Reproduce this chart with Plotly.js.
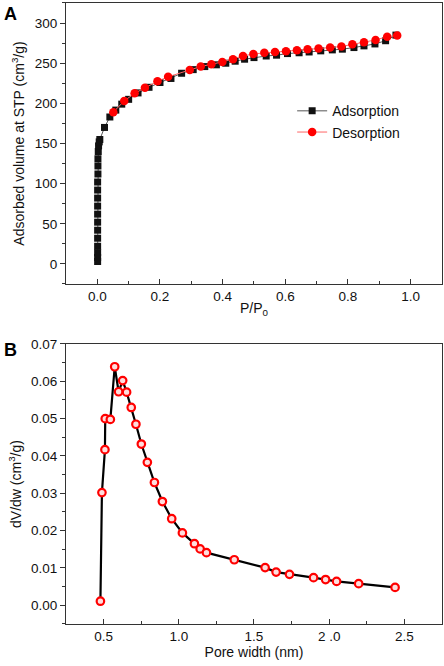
<!DOCTYPE html>
<html>
<head>
<meta charset="utf-8">
<script src="https://cdn.plot.ly/plotly-3.0.1.min.js"></script>
<style>html,body{margin:0;padding:0;background:#fff;}#chart{width:444px;height:666px;}</style>
</head>
<body>
<div id="chart"></div>
<script>
// Panel A: N2 isotherm
const adsX = [0.001,0.001,0.001,0.001,0.001,0.001,0.001,0.001,0.001,0.001,0.001,0.001,0.002,0.002,0.002,0.003,0.004,0.006,0.008,0.023,0.040,0.059,0.078,0.100,0.130,0.165,0.200,0.235,0.269,0.306,0.343,0.380,0.410,0.440,0.470,0.500,0.539,0.572,0.607,0.644,0.676,0.713,0.750,0.782,0.819,0.851,0.886,0.920,0.953];
const adsY = [3,8,14,22,32,42,52,62,72,82,92,102,112,122,131,140,147,152,155,170,183,191.6,199,205,213,220,226,231,237.5,242,245.8,248,250,252.5,255,257,259,260,262,263,264,265.4,266.6,267.5,269.5,271.6,274,278,285];
const desX = [0.957,0.925,0.888,0.851,0.814,0.779,0.743,0.706,0.671,0.637,0.602,0.567,0.533,0.498,0.465,0.433,0.399,0.364,0.330,0.295,0.226,0.192,0.152,0.119,0.086,0.051];
const desY = [284.5,283,279,276,273.5,270.8,269.5,268.3,267.5,266,265,264,263,261.6,259,255,251.6,248.7,245.8,241.6,233,227.5,219.5,212.5,203,189];
// Panel B: pore size distribution
const poreW = [0.479,0.489,0.509,0.511,0.545,0.574,0.600,0.627,0.653,0.684,0.715,0.751,0.791,0.838,0.891,0.953,1.024,1.104,1.142,1.184,1.369,1.574,1.647,1.736,1.896,1.976,2.049,2.196,2.438];
const dVdw = [0.0011,0.0302,0.0417,0.0500,0.0498,0.0639,0.0572,0.0602,0.0571,0.0530,0.0485,0.0432,0.0383,0.0329,0.0278,0.0232,0.0194,0.0165,0.0151,0.0141,0.0122,0.0101,0.0089,0.0083,0.0074,0.0069,0.0064,0.0058,0.0048];
const bTickVals = [0.5,1.0,1.5,2.0,2.5];
const bTickText = ['0.5','1.0','1.5','2 .0','2.5'];

const FONT = 'Liberation Sans, Arial, sans-serif';
const traces = [
  {x: adsX, y: adsY, type:'scatter', mode:'lines+markers', name:'Adsorption',
   line:{color:'#555', width:1}, marker:{symbol:'square', size:7, color:'#111'}, xaxis:'x', yaxis:'y'},
  {x: desX, y: desY, type:'scatter', mode:'lines+markers', name:'Desorption',
   line:{color:'#f66', width:1}, marker:{symbol:'circle', size:8.5, color:'#f00'}, xaxis:'x', yaxis:'y'},
  {x: poreW, y: dVdw, type:'scatter', mode:'lines+markers', showlegend:false,
   line:{color:'#000', width:2.2}, marker:{symbol:'circle', size:7.5, color:'#fdd', line:{color:'#f00', width:2.2}}, xaxis:'x2', yaxis:'y2'}
];
const axCommon = {showline:true, mirror:true, linecolor:'#333', linewidth:1, zeroline:false, showgrid:false,
  tickcolor:'#333', ticklen:5, tickfont:{family:FONT, size:13.5, color:'#111'}, automargin:false};
const layout = {
  width:444, height:666, margin:{l:0,r:0,t:0,b:0}, paper_bgcolor:'#fff', plot_bgcolor:'#fff',
  font:{family:FONT, color:'#111'},
  showlegend:true,
  legend:{x:0.658, y:0.857, xanchor:'left', yanchor:'top', font:{family:FONT, size:14, color:'#111'}, bgcolor:'rgba(0,0,0,0)', tracegroupgap:0},
  xaxis: Object.assign({}, axCommon, {domain:[0.1486,0.9955], anchor:'y', range:[-0.1,1.1], tickvals:[0,0.2,0.4,0.6,0.8,1.0], tickformat:'.1f', ticks:'inside',
    minor:{dtick:0.1, tick0:0, ticks:'inside', ticklen:3, tickcolor:'#333'},
    title:{text:'P/P<sub>0</sub>', font:{family:FONT, size:14}, standoff:0}}),
  yaxis: Object.assign({}, axCommon, {domain:[0.5736,0.9955], anchor:'x', range:[-25,325], tickvals:[0,50,100,150,200,250,300], ticks:'outside',
    minor:{dtick:25, tick0:0, ticks:'outside', ticklen:3, tickcolor:'#333'},
    title:{text:'Adsorbed volume at STP (cm<sup>3</sup>/g)', font:{family:FONT, size:14}, standoff:6}}),
  xaxis2: Object.assign({}, axCommon, {domain:[0.1486,0.9955], anchor:'y2', range:[0.25,2.75], tickvals:bTickVals, ticktext:bTickText, ticks:'inside',
    minor:{dtick:0.25, tick0:0, ticks:'inside', ticklen:3, tickcolor:'#333'},
    title:{text:'Pore width (nm)', font:{family:FONT, size:14}, standoff:4}}),
  yaxis2: Object.assign({}, axCommon, {domain:[0.0631,0.4835], anchor:'x2', range:[-0.005,0.07], tickvals:[0,0.01,0.02,0.03,0.04,0.05,0.06,0.07], tickformat:'.2f', ticks:'outside',
    minor:{dtick:0.005, tick0:0, ticks:'outside', ticklen:3, tickcolor:'#333'},
    title:{text:'dV/dw (cm<sup>3</sup>/g)', font:{family:FONT, size:14}, standoff:6}}),
  annotations:[
    {text:'<b>A</b>', xref:'paper', yref:'paper', x:2/444, y:1-2/666, xanchor:'left', yanchor:'top', showarrow:false, font:{family:FONT, size:18, color:'#000'}},
    {text:'<b>B</b>', xref:'paper', yref:'paper', x:2/444, y:1-338/666, xanchor:'left', yanchor:'top', showarrow:false, font:{family:FONT, size:18, color:'#000'}}
  ]
};
Plotly.newPlot('chart', traces, layout, {displayModeBar:false, staticPlot:true});
</script>
</body>
</html>
